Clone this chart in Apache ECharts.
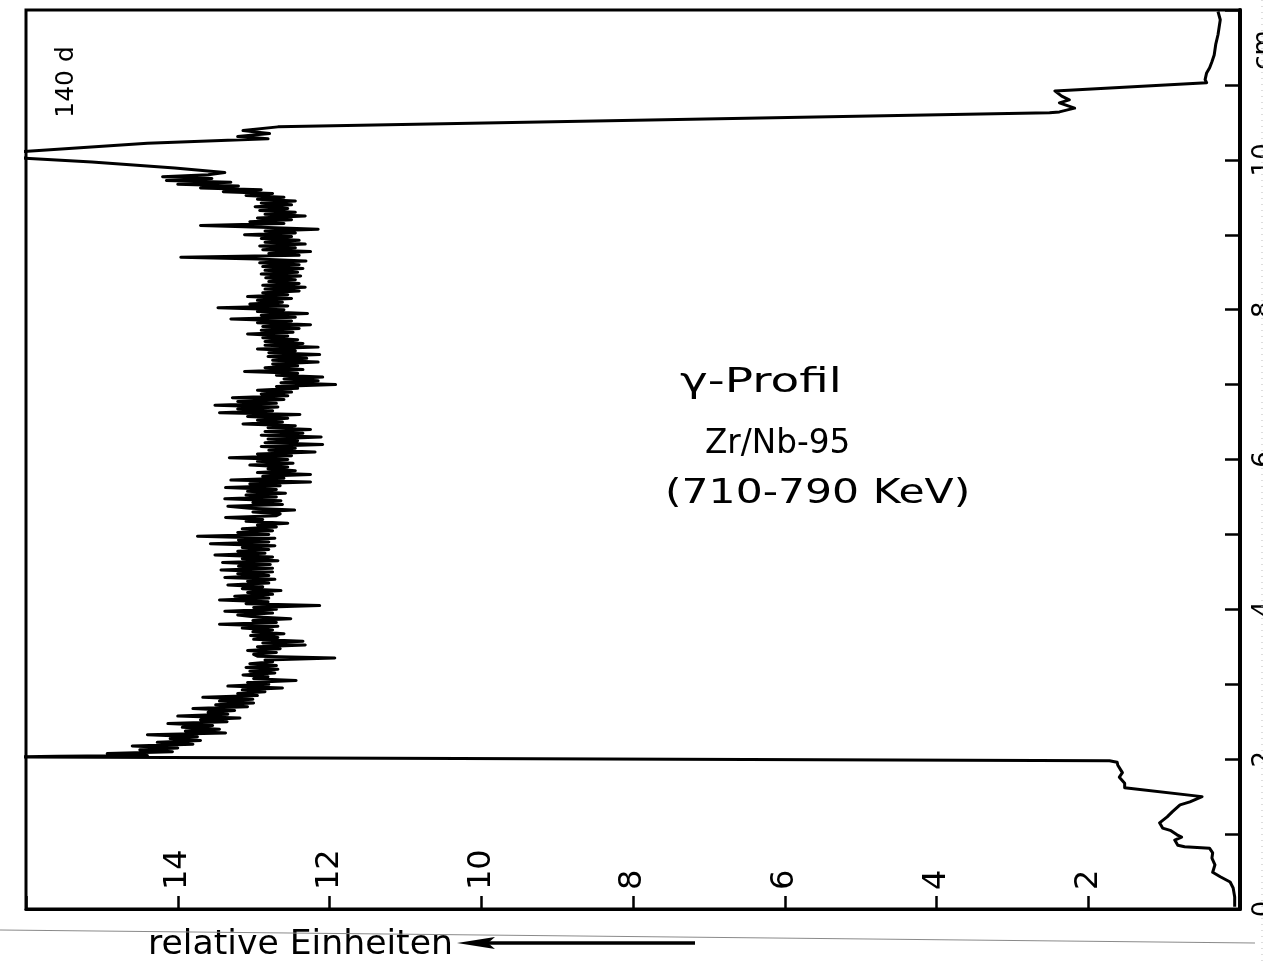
<!DOCTYPE html>
<html>
<head>
<meta charset="utf-8">
<script src="https://cdn.jsdelivr.net/npm/echarts@6/dist/echarts.min.js"></script>
<style>
  html, body { margin: 0; padding: 0; background: #ffffff; }
  #chart { width: 1280px; height: 964px; }
</style>
</head>
<body>
<div id="chart"></div>
<script>
// Gamma scan of the rod, count rate in relative units versus depth in cm

// upper end: plenum region, then the steep rise into the fuel column  [depth, counts]
const headProfile = [
  [11.98, 0.29], [11.87, 0.26], [11.67, 0.29], [11.54, 0.32], [11.40, 0.34],
  [11.31, 0.37], [11.23, 0.40], [11.16, 0.44], [11.07, 0.46], [11.03, 0.44],
  [10.92, 2.44], [10.85, 2.35], [10.80, 2.25], [10.76, 2.38], [10.69, 2.18],
  [10.64, 2.38], [10.63, 2.51], [10.44, 12.68], [10.39, 13.14], [10.35, 12.79],
  [10.31, 13.21], [10.28, 12.81], [10.22, 14.40], [10.10, 16.22], [10.02, 16.01],
  [9.97, 15.13], [9.89, 14.04], [9.83, 13.38]
];

// fuel column, sampled every 0.025 cm going down from 9.80 cm
const scanStartCm = 9.80;
const scanStepCm = 0.025;
const scanCounts = [
  13.60, 14.20, 13.55, 14.15, 13.30, 14.00, 13.20, 13.70, 12.90, 13.40,
  12.75, 13.10, 12.60, 12.95, 12.45, 12.90, 12.50, 12.98, 12.55, 12.92,
  12.45, 12.85, 12.32, 12.95, 12.50, 13.05, 12.60, 13.70, 12.90, 12.15,
  12.85, 12.45, 13.12, 12.50, 12.90, 12.40, 12.85, 12.32, 12.92, 12.45,
  12.88, 12.25, 12.80, 12.40, 13.96, 12.95, 12.31, 12.92, 12.40, 12.88,
  12.35, 12.85, 12.42, 12.90, 12.38, 12.84, 12.45, 12.80, 12.40, 12.88,
  12.32, 12.85, 12.40, 12.88, 12.55, 13.08, 12.50, 12.95, 12.62, 13.05,
  12.55, 13.47, 12.60, 12.95, 12.29, 12.90, 12.45, 13.30, 12.50, 12.95,
  12.25, 12.88, 12.40, 12.90, 12.48, 13.08, 12.55, 12.88, 12.42, 12.85,
  12.35, 12.85, 12.15, 12.95, 12.45, 12.80, 12.13, 12.81, 12.30, 12.75,
  12.15, 12.75, 12.42, 12.85, 12.35, 13.12, 12.42, 12.70, 12.09, 12.60,
  12.15, 12.64, 11.92, 12.70, 12.42, 12.95, 12.50, 12.90, 12.55, 13.28,
  12.60, 13.21, 12.70, 13.51, 12.68, 13.21, 12.75, 13.45, 12.39, 13.08,
  12.55, 12.95, 12.62, 13.14, 12.45, 12.81, 12.25, 12.85, 12.35, 12.90,
  12.11, 12.81, 12.42, 12.85, 12.09, 12.90, 12.45, 12.80, 12.19, 12.95,
  12.50, 13.32, 12.55, 12.95, 12.48, 13.05, 12.55, 12.81, 12.45, 12.95,
  12.25, 12.88, 12.60, 13.30, 12.25, 13.05, 12.65, 13.37, 12.70, 13.08,
  12.58, 13.10, 12.70, 13.38, 12.64, 13.01, 12.62, 13.34, 13.05, 12.46,
  13.01, 12.65, 12.70, 13.37, 12.88, 13.10, 12.55, 12.95, 12.70, 13.15,
  12.75, 13.21, 12.80, 13.74, 12.72, 13.20, 12.80, 13.57, 12.72, 13.15,
  12.80, 13.21, 12.85, 13.51, 12.75, 13.15, 12.68, 13.41, 12.78, 13.20,
  12.75, 13.43, 12.75, 13.21, 12.80, 13.38, 12.72, 13.08, 12.80, 13.34,
  12.88, 13.15, 12.64, 13.08, 12.75, 13.25, 12.80, 13.45, 12.81, 13.10,
  12.13, 13.00, 12.70, 13.38, 12.75, 13.21, 13.00, 12.51, 13.01, 12.70,
  13.45, 12.68, 13.15, 12.75, 13.01, 12.60, 13.04, 12.68, 13.00, 12.35,
  12.88, 12.32, 12.95, 12.65, 13.08, 12.70, 13.00, 12.95, 11.93, 12.85,
  12.75, 13.05, 12.70, 13.10, 12.68, 13.05, 12.72, 13.14, 12.81, 13.00,
  12.44, 13.08, 12.80, 13.34, 12.62, 13.15, 12.85, 13.21, 12.95, 13.67,
  13.01, 13.45, 13.00, 13.50, 13.08, 13.80, 13.25, 13.60, 13.34, 14.00,
  13.18, 13.70, 13.35, 14.13, 13.54, 13.94, 13.45, 13.90, 13.37, 14.40,
  13.74, 14.10, 13.70, 14.27, 13.80, 14.60, 14.00, 14.50, 14.07, 14.93,
  14.40
];

// lower end: drop out of the fuel column into the end plug  [depth, counts]
const tailProfile = [
  [2.04, 15.59], [2.03, 16.27],
  [1.98, 1.72], [1.96, 1.62], [1.92, 1.61], [1.82, 1.55], [1.76, 1.59],
  [1.68, 1.52], [1.62, 1.52], [1.50, 0.50], [1.43, 0.66], [1.39, 0.79],
  [1.30, 0.89], [1.23, 0.96], [1.15, 1.06], [1.08, 1.02], [1.05, 0.92],
  [0.99, 0.83], [0.96, 0.77], [0.92, 0.86], [0.85, 0.82], [0.83, 0.73],
  [0.81, 0.40], [0.75, 0.36], [0.68, 0.37], [0.59, 0.33], [0.49, 0.36],
  [0.43, 0.26], [0.36, 0.13], [0.28, 0.09], [0.16, 0.07], [0.03, 0.07]
];

const countLabels = [2, 4, 6, 8, 10, 12, 14];
const depthLabels = [0, 2, 4, 6, 8, 10];

const FONT = '"DejaVu Sans", "Liberation Sans", sans-serif';

const scanProfile = scanCounts.map((c, i) => [+(scanStartCm - i * scanStepCm).toFixed(3), c]);
const profile = headProfile.concat(scanProfile, tailProfile).map(([d, c]) => [c, d]);

const chart = echarts.init(document.getElementById('chart'), null, { renderer: 'canvas' });

chart.setOption({
  animation: false,
  backgroundColor: '#ffffff',
  grid: {
    left: 26, right: 40, top: 10, bottom: 55,
    show: true, borderColor: '#000', borderWidth: 3,
    containLabel: false, outerBoundsMode: 'none'
  },
  xAxis: {
    type: 'value', min: 0, max: 16, interval: 2, inverse: true,
    position: 'bottom',
    axisLine: { show: true, lineStyle: { color: '#000', width: 3 } },
    axisTick: { show: true, inside: true, length: 13, lineStyle: { color: '#000', width: 2.5 } },
    axisLabel: {
      inside: true, rotate: 90, margin: 19,
      color: '#000', fontFamily: FONT, fontSize: 32,
      formatter: v => countLabels.includes(v) ? String(v) : ''
    },
    splitLine: { show: false }
  },
  yAxis: {
    type: 'value', min: 0, max: 12, interval: 1,
    position: 'right',
    axisLine: { show: true, lineStyle: { color: '#000', width: 4 } },
    axisTick: { show: true, inside: true, length: 15, lineStyle: { color: '#000', width: 2.5 } },
    axisLabel: {
      rotate: 90, margin: 11,
      color: '#000', fontFamily: FONT, fontSize: 26,
      formatter: v => depthLabels.includes(v) ? String(v) : ''
    },
    splitLine: { show: false }
  },
  series: [{
    type: 'line',
    data: profile,
    showSymbol: false,
    clip: false,
    lineStyle: { color: '#000', width: 3, join: 'round' }
  }],
  graphic: [
    { type: 'text', x: 66, y: 82, rotation: Math.PI / 2,
      style: { text: '140 d', font: '25px ' + FONT, fill: '#000', align: 'center', verticalAlign: 'middle' } },
    { type: 'text', x: 680, y: 383, scaleX: 1.38,
      style: { text: 'γ-Profil', font: '34px ' + FONT, fill: '#000', verticalAlign: 'middle' } },
    { type: 'text', x: 705, y: 444, scaleX: 0.96,
      style: { text: 'Zr/Nb-95', font: '34px ' + FONT, fill: '#000', verticalAlign: 'middle' } },
    { type: 'text', x: 665, y: 494, scaleX: 1.25,
      style: { text: '(710-790 KeV)', font: '34px ' + FONT, fill: '#000', verticalAlign: 'middle' } },
    { type: 'text', x: 1251, y: 50, rotation: Math.PI / 2,
      style: { text: 'cm', font: '26px ' + FONT, fill: '#000', align: 'center', verticalAlign: 'top' } },
    // paper edge on the right
    { type: 'rect', z: 100, shape: { x: 1263, y: 0, width: 17, height: 964 }, style: { fill: '#fff' } },
    { type: 'line', z: 101, shape: { x1: 1262, y1: 0, x2: 1262, y2: 964 },
      style: { stroke: '#bbb', lineWidth: 1, lineDash: [1, 5] } },
    // thin rule under the frame
    { type: 'line', z: 50, shape: { x1: 0, y1: 930, x2: 1255, y2: 943 },
      style: { stroke: '#8a8a8a', lineWidth: 1.2 } },
    // axis caption with arrow
    { type: 'text', x: 148, y: 945, scaleX: 1.05,
      style: { text: 'relative Einheiten', font: '33px ' + FONT, fill: '#000', verticalAlign: 'middle' } },
    { type: 'line', z: 60, shape: { x1: 480, y1: 943, x2: 695, y2: 943 },
      style: { stroke: '#000', lineWidth: 3.5 } },
    { type: 'polygon', z: 60, shape: { points: [[457, 943], [495, 937], [488, 943], [495, 949]] },
      style: { fill: '#000' } }
  ]
});
</script>
</body>
</html>
